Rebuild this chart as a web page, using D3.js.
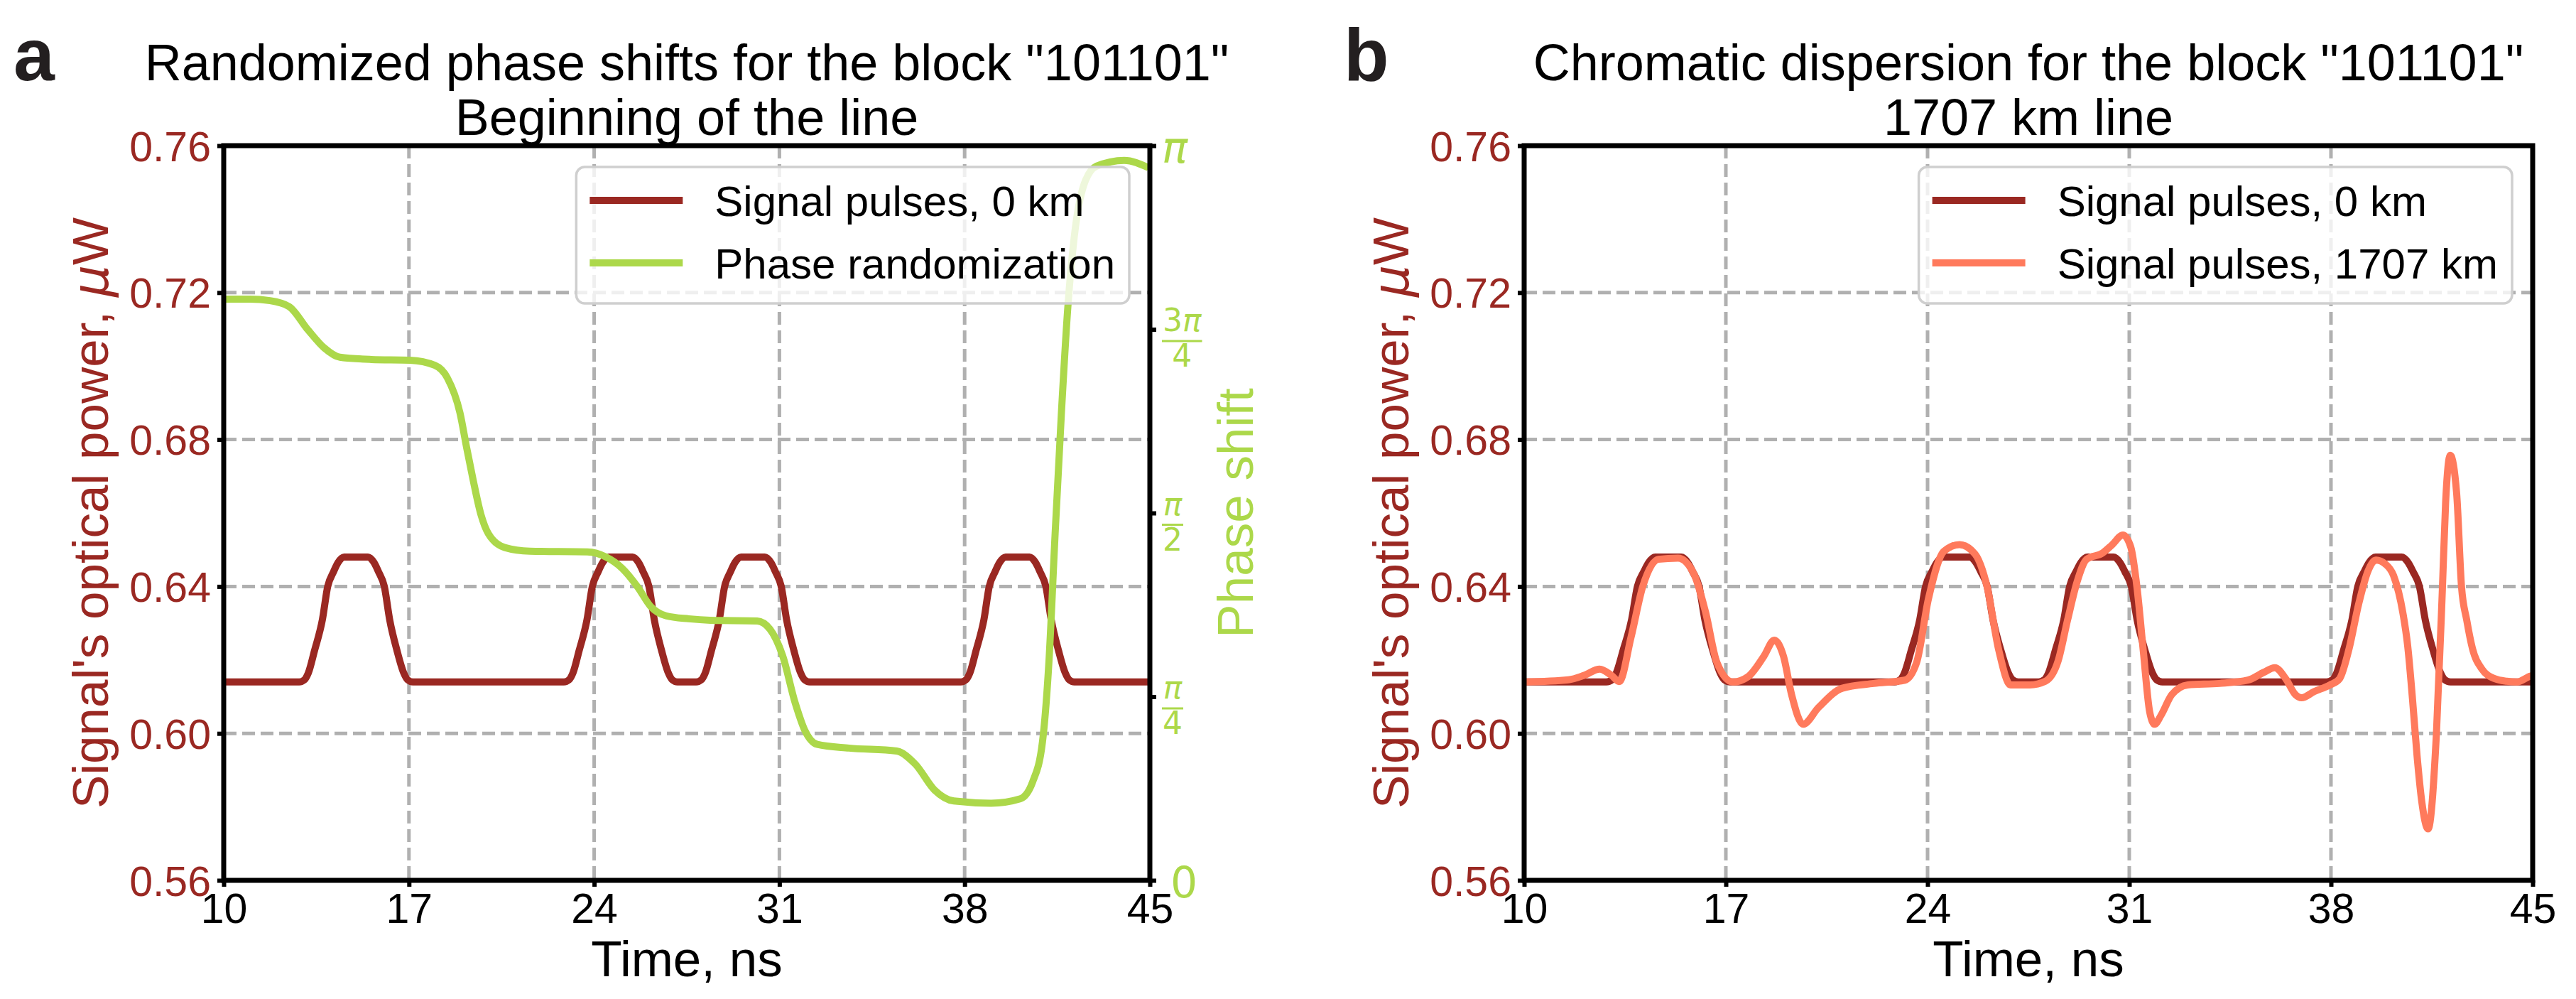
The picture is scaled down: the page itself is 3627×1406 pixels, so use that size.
<!DOCTYPE html>
<html><head><meta charset="utf-8">
<script src="https://cdn.jsdelivr.net/npm/d3@7"></script>
<style>body{margin:0;background:#fff}svg{display:block}</style>
</head><body>
<svg id="fig" width="3627" height="1406"></svg>
<script>
// ---------------- data ----------------
const xTicks = [10, 17, 24, 31, 38, 45];
const yTicks = [0.56, 0.60, 0.64, 0.68, 0.72, 0.76];
const phaseTicks = [0, 0.25, 0.5, 0.75, 1];           // in units of pi
const phaseTickNumerator = ["0", "π", "π", "3π", "π"];
const phaseTickDenominator = ["", "4", "2", "4", ""];

// Signal pulses, 0 km (time ns, power uW)
const pulseTime0km = [10.0, 12.85, 13.05, 13.2, 13.43, 13.73, 13.93, 14.15, 14.32, 14.55, 15.45, 15.68, 15.85, 16.07, 16.27, 16.55, 16.8, 16.95, 17.15,
  22.85, 23.05, 23.2, 23.43, 23.73, 23.93, 24.15, 24.32, 24.55, 25.45, 25.68, 25.85, 26.07, 26.27, 26.55, 26.8, 26.95, 27.15,
  27.85, 28.05, 28.2, 28.43, 28.73, 28.93, 29.15, 29.32, 29.55, 30.45, 30.68, 30.85, 31.07, 31.27, 31.55, 31.8, 31.95, 32.15,
  37.85, 38.05, 38.2, 38.43, 38.73, 38.93, 39.15, 39.32, 39.55, 40.45, 40.68, 40.85, 41.07, 41.27, 41.55, 41.8, 41.95, 42.15, 45.0];
const pulsePower0km = [0.614, 0.614, 0.6146, 0.6165, 0.6225, 0.631, 0.640, 0.644, 0.6465, 0.648, 0.648, 0.6465, 0.644, 0.640, 0.631, 0.6225, 0.6165, 0.6146, 0.614,
  0.614, 0.6146, 0.6165, 0.6225, 0.631, 0.640, 0.644, 0.6465, 0.648, 0.648, 0.6465, 0.644, 0.640, 0.631, 0.6225, 0.6165, 0.6146, 0.614,
  0.614, 0.6146, 0.6165, 0.6225, 0.631, 0.640, 0.644, 0.6465, 0.648, 0.648, 0.6465, 0.644, 0.640, 0.631, 0.6225, 0.6165, 0.6146, 0.614,
  0.614, 0.6146, 0.6165, 0.6225, 0.631, 0.640, 0.644, 0.6465, 0.648, 0.648, 0.6465, 0.644, 0.640, 0.631, 0.6225, 0.6165, 0.6146, 0.614, 0.614];

// Phase randomization (time ns, phase shift in units of pi)
const phaseTime = [10.0, 11.0, 11.75, 12.47, 13.19, 13.79, 14.39, 15.58, 17.04, 17.98, 18.45, 18.93, 19.18, 19.42, 19.72, 20.0, 20.62, 21.57, 23.74,
  24.45, 25.05, 25.65, 26.13, 26.72, 27.57, 28.39, 30.16, 30.64, 31.12, 31.6, 31.95, 32.43, 33.63, 35.43, 36.14, 36.86, 37.59, 39.0,
  40.1, 40.57, 40.94, 41.18, 41.42, 41.66, 41.9, 42.14, 42.5, 42.98, 44.03, 44.95];
const phaseShiftPi = [0.791, 0.791, 0.789, 0.781, 0.749, 0.725, 0.712, 0.709, 0.708, 0.701, 0.684, 0.636, 0.589, 0.546, 0.498, 0.472, 0.453, 0.448, 0.447,
  0.440, 0.425, 0.399, 0.373, 0.360, 0.356, 0.354, 0.353, 0.342, 0.306, 0.241, 0.205, 0.185, 0.180, 0.176, 0.158, 0.123, 0.108, 0.105,
  0.111, 0.134, 0.188, 0.294, 0.472, 0.638, 0.780, 0.875, 0.946, 0.972, 0.980, 0.970];

// Signal pulses, 1707 km (time ns, power uW)
const dispTime = [10.0, 11.54, 12.08, 12.62, 13.03, 13.30, 13.71, 14.12, 14.66, 15.34, 15.88, 16.29, 16.69, 17.24, 17.78, 18.32, 18.68, 19.0,
  19.28, 19.68, 20.22, 21.04, 22.13, 23.21, 23.62, 24.03, 24.57, 25.11, 25.65, 26.06, 26.47, 26.88, 27.55, 28.09, 28.53, 28.86, 29.19,
  29.52, 30.07, 30.40, 30.78, 31.05, 31.27, 31.49, 31.71, 31.88, 32.10, 32.48, 33.03, 34.13, 35.12, 35.66, 36.05, 36.43, 36.76, 36.98,
  37.42, 37.97, 38.30, 38.63, 38.96, 39.29, 39.56, 39.89, 40.17, 40.50, 40.66, 40.83, 40.99, 41.15, 41.37, 41.66, 41.87, 41.98, 42.14,
  42.36, 42.53, 42.71, 42.91, 43.24, 43.68, 44.1, 44.45, 44.89, 45.0];
const dispPower1707 = [0.614, 0.6146, 0.6158, 0.6175, 0.6158, 0.6141, 0.6262, 0.6401, 0.6474, 0.6477, 0.6436, 0.6332, 0.6193, 0.6140, 0.6155, 0.6210, 0.6254, 0.6210,
  0.6106, 0.6025, 0.6071, 0.6123, 0.6136, 0.6145, 0.6193, 0.6366, 0.6496, 0.6514, 0.6488, 0.6401, 0.6227, 0.6132, 0.6132, 0.6142, 0.6197, 0.6309, 0.6413,
  0.6474, 0.6491, 0.6513, 0.6540, 0.6508, 0.6396, 0.6222, 0.6058, 0.6025, 0.6049, 0.6106, 0.6132, 0.6136, 0.6145, 0.6166, 0.6179, 0.6149, 0.6106, 0.6097,
  0.6114, 0.6132, 0.6149, 0.6231, 0.6352, 0.6443, 0.6472, 0.6461, 0.6430, 0.6326, 0.6240, 0.6093, 0.5937, 0.5815, 0.5740, 0.6000, 0.6400, 0.6630, 0.6757,
  0.6655, 0.6400, 0.6309, 0.6231, 0.6175, 0.6149, 0.6142, 0.6140, 0.6155, 0.6158];

// ---------------- styling ----------------
const RED = "#9a2822", GREEN = "#acd84a", SALMON = "#ff7a5c";
const FONT = "'Liberation Sans', Arial, Helvetica, sans-serif";
const MATH = "'DejaVu Sans', sans-serif";
const Y0 = 205, Y1 = 1239;

const svg = d3.select("#fig");
svg.append("rect").attr("width", 3627).attr("height", 1406).attr("fill", "#fff");

function mathTspans(sel, str) {
  for (const ch of str) {
    sel.append("tspan").attr("font-style", ch === "π" ? "italic" : "normal").text(ch);
  }
}

function panel(cfg) {
  const x = d3.scaleLinear().domain([10, 45]).range([cfg.x0, cfg.x1]);
  const y = d3.scaleLinear().domain([0.56, 0.76]).range([Y1, Y0]);
  const g = svg.append("g");
  const clipId = "clip" + cfg.id;
  svg.append("clipPath").attr("id", clipId).append("rect")
    .attr("x", cfg.x0).attr("y", Y0).attr("width", cfg.x1 - cfg.x0).attr("height", Y1 - Y0);

  // grid
  const grid = g.append("g").attr("stroke", "#b0b0b0").attr("stroke-width", 5).attr("stroke-dasharray", "18,8");
  grid.selectAll("line.gx").data(xTicks.slice(1, -1)).join("line")
    .attr("x1", d => x(d)).attr("x2", d => x(d)).attr("y1", Y0).attr("y2", Y1);
  grid.selectAll("line.gy").data(yTicks.slice(1, -1)).join("line")
    .attr("x1", cfg.x0).attr("x2", cfg.x1).attr("y1", d => y(d)).attr("y2", d => y(d));

  // lines
  const lg = g.append("g").attr("clip-path", `url(#${clipId})`);
  for (const s of cfg.series) {
    const sc = s.scale === "phase" ? cfg.phase : y;
    const line = d3.line().x(d => x(d[0])).y(d => sc(d[1])).curve(d3.curveMonotoneX);
    lg.append("path").datum(d3.zip(s.t, s.v)).attr("d", line)
      .attr("fill", "none").attr("stroke", s.color).attr("stroke-width", 10)
      .attr("stroke-linejoin", "round");
  }

  // spines
  g.append("rect").attr("x", cfg.x0).attr("y", Y0).attr("width", cfg.x1 - cfg.x0).attr("height", Y1 - Y0)
    .attr("fill", "none").attr("stroke", "#000").attr("stroke-width", 7);

  // x axis
  const xa = g.append("g").attr("transform", `translate(0,${Y1})`)
    .call(d3.axisBottom(x).tickValues(xTicks).tickSize(9).tickFormat(d3.format("d")));
  xa.select(".domain").remove();
  xa.selectAll(".tick line").attr("stroke", "#000").attr("stroke-width", 6);
  xa.selectAll(".tick text").attr("dy", null).attr("y", 60)
    .attr("font-family", FONT).attr("font-size", 59).attr("fill", "#000");

  // y axis
  const ya = g.append("g").attr("transform", `translate(${cfg.x0},0)`)
    .call(d3.axisLeft(y).tickValues(yTicks).tickSize(9).tickFormat(d3.format(".2f")));
  ya.select(".domain").remove();
  ya.selectAll(".tick line").attr("stroke", "#000").attr("stroke-width", 6);
  ya.selectAll(".tick text").attr("dy", null).attr("y", 21).attr("x", -18)
    .attr("font-family", FONT).attr("font-size", 59).attr("fill", RED);

  // axis labels
  g.append("text").attr("x", (cfg.x0 + cfg.x1) / 2).attr("y", 1374).attr("text-anchor", "middle")
    .attr("font-family", FONT).attr("font-size", 71).attr("fill", "#000").text("Time, ns");
  const yl = g.append("text").attr("transform", `translate(${cfg.x0 - 163},${(Y0 + Y1) / 2}) rotate(-90)`)
    .attr("text-anchor", "middle").attr("font-family", FONT).attr("font-size", 71).attr("fill", RED);
  yl.append("tspan").text("Signal's optical power, ");
  yl.append("tspan").attr("font-family", MATH).attr("font-style", "italic").text("μ");
  yl.append("tspan").text("W");

  // phase axis
  if (cfg.phase) {
    const pa = g.append("g").attr("transform", `translate(${cfg.x1},0)`)
      .call(d3.axisRight(cfg.phase).tickValues(phaseTicks).tickSize(9).tickFormat(() => ""));
    pa.select(".domain").remove();
    pa.selectAll(".tick line").attr("stroke", "#000").attr("stroke-width", 6);
    const lx = 17;
    pa.selectAll(".tick").each(function(d, i) {
      const tk = d3.select(this);
      const num = phaseTickNumerator[i], den = phaseTickDenominator[i];
      if (!den) {
        const t = tk.append("text").attr("x", num === "0" ? lx + 12 : lx).attr("y", 23.5).attr("font-family", MATH)
          .attr("font-size", 60).attr("fill", GREEN);
        mathTspans(t, num);
      } else {
        const nt = tk.append("text").attr("y", 2).attr("font-family", MATH).attr("font-size", 44)
          .attr("fill", GREEN).attr("text-anchor", "middle");
        mathTspans(nt, num);
        const dt = tk.append("text").attr("y", 52).attr("font-family", MATH).attr("font-size", 44)
          .attr("fill", GREEN).attr("text-anchor", "middle").text(den);
        const w = Math.max(nt.node().getComputedTextLength(), dt.node().getComputedTextLength()) + 2;
        const cx = lx + w / 2;
        nt.attr("x", cx); dt.attr("x", cx);
        tk.append("line").attr("x1", lx).attr("x2", lx + w).attr("y1", 16).attr("y2", 16)
          .attr("stroke", GREEN).attr("stroke-width", 3);
      }
    });
    g.append("text").attr("transform", `translate(${cfg.x1 + 145},${(Y0 + Y1) / 2}) rotate(-90)`)
      .attr("text-anchor", "middle").attr("font-family", FONT).attr("font-size", 71)
      .attr("fill", GREEN).text("Phase shift");
  }

  // title
  cfg.title.forEach((t, i) => {
    g.append("text").attr("x", (cfg.x0 + cfg.x1) / 2).attr("y", 113 + i * 77).attr("text-anchor", "middle")
      .attr("font-family", FONT).attr("font-size", 72).attr("fill", "#000").text(t);
  });
  g.append("text").attr("x", cfg.letterX).attr("y", 113).attr("font-family", FONT).attr("font-weight", "bold")
    .attr("font-size", 104).attr("fill", "#231f20").text(cfg.letter);

  // legend
  const leg = g.append("g");
  const box = leg.append("rect");
  const boxTop = Y0 + 30;
  const texts = [];
  cfg.legend.forEach((e, i) => {
    const ly = boxTop + 47 + i * 88;
    leg.append("line").attr("class", "ll").attr("y1", ly).attr("y2", ly).attr("stroke", e.color).attr("stroke-width", 10);
    texts.push(leg.append("text").attr("y", ly + 22).attr("font-family", FONT).attr("font-size", 60)
      .attr("fill", "#000").text(e.label));
  });
  const tw = d3.max(texts, t => t.node().getComputedTextLength());
  const bw = 195 + tw + 20;
  const bx = cfg.x1 - 29 - bw;
  box.attr("x", bx).attr("y", boxTop).attr("width", bw).attr("height", 192).attr("rx", 12)
    .attr("fill", "#fff").attr("fill-opacity", 0.8).attr("stroke", "#cfcfcf").attr("stroke-width", 3.5);
  leg.selectAll("line.ll").attr("x1", bx + 19).attr("x2", bx + 150);
  texts.forEach(t => t.attr("x", bx + 195));
}

panel({
  id: "a", x0: 315, x1: 1619, letter: "a", letterX: 19,
  title: ['Randomized phase shifts for the block "101101"', "Beginning of the line"],
  phase: d3.scaleLinear().domain([0, 1]).range([Y1, Y0]),
  series: [
    {t: pulseTime0km, v: pulsePower0km, color: RED},
    {t: phaseTime, v: phaseShiftPi, color: GREEN, scale: "phase"}
  ],
  legend: [{label: "Signal pulses, 0 km", color: RED}, {label: "Phase randomization", color: GREEN}]
});

panel({
  id: "b", x0: 2146, x1: 3566, letter: "b", letterX: 1892,
  title: ['Chromatic dispersion for the block "101101"', "1707 km line"],
  series: [
    {t: pulseTime0km, v: pulsePower0km, color: RED},
    {t: dispTime, v: dispPower1707, color: SALMON}
  ],
  legend: [{label: "Signal pulses, 0 km", color: RED}, {label: "Signal pulses, 1707 km", color: SALMON}]
});
</script>
</body></html>
